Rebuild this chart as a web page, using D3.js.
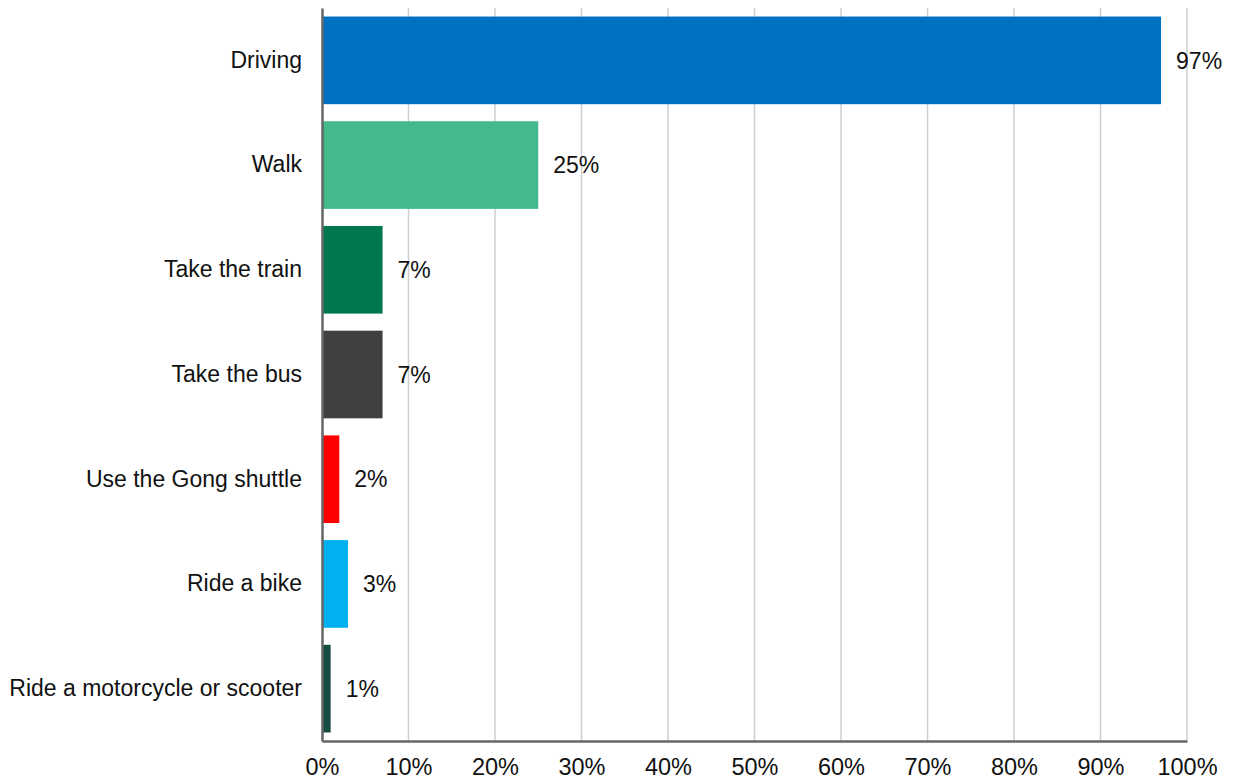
<!DOCTYPE html>
<html>
<head>
<meta charset="utf-8">
<script src="https://cdn.jsdelivr.net/npm/d3@7"></script>
<style>
  html, body { margin: 0; padding: 0; background: #fff; }
  svg { display: block; }
  text { font-family: "Liberation Sans", Arial, Helvetica, sans-serif; fill: #111; }
</style>
</head>
<body>
<svg id="chart" width="1233" height="781"></svg>
<script>
// How people get around
const categories = ["Driving", "Walk", "Take the train", "Take the bus", "Use the Gong shuttle", "Ride a bike", "Ride a motorcycle or scooter"];
const values = [97, 25, 7, 7, 2, 3, 1];
const colors = ["#0070c0", "#43ba8b", "#00784d", "#404040", "#ff0000", "#00b0f0", "#164c42"];
const tickValues = [0, 10, 20, 30, 40, 50, 60, 70, 80, 90, 100];

const svg = d3.select("#chart");
const margin = { top: 8, right: 46, bottom: 40, left: 322 };
const W = 1233, H = 781;
const innerW = W - margin.left - margin.right;
const innerH = H - margin.top - margin.bottom;

const x = d3.scaleLinear().domain([0, 100]).range([0, innerW]);
const y = d3.scaleBand().domain(categories).range([0, innerH]).paddingInner(0.163).paddingOuter(0.0815);

const g = svg.append("g").attr("transform", `translate(${margin.left},${margin.top})`);

// vertical gridlines
g.append("g")
  .selectAll("line")
  .data(tickValues.filter(d => d > 0))
  .join("line")
  .attr("x1", d => x(d)).attr("x2", d => x(d))
  .attr("y1", 0).attr("y2", innerH)
  .attr("stroke", "#cfcfcf")
  .attr("stroke-width", 1.5);

// bars
g.append("g")
  .selectAll("rect")
  .data(categories)
  .join("rect")
  .attr("x", x(0))
  .attr("y", d => y(d))
  .attr("width", (d, i) => x(values[i]) - x(0))
  .attr("height", y.bandwidth())
  .attr("fill", (d, i) => colors[i]);

// value labels
g.append("g")
  .selectAll("text")
  .data(categories)
  .join("text")
  .attr("x", (d, i) => x(values[i]) + 15)
  .attr("y", d => y(d) + y.bandwidth() / 2)
  .attr("dy", "0.36em")
  .style("font-size", "23px")
  .text((d, i) => values[i] + "%");

// x axis
const xAxis = g.append("g")
  .attr("transform", `translate(0,${innerH})`)
  .call(d3.axisBottom(x).tickValues(tickValues).tickFormat(d => d + "%").tickSize(0).tickPadding(17));
xAxis.select(".domain").attr("stroke", "#666").attr("stroke-width", 2.5);
xAxis.selectAll("text").style("font-size", "23.5px").attr("fill", "#111");

// y axis
const yAxis = g.append("g")
  .call(d3.axisLeft(y).tickSize(0).tickPadding(20));
yAxis.select(".domain").attr("stroke", "#666").attr("stroke-width", 2.5);
yAxis.selectAll("text").style("font-size", "23px").attr("fill", "#111");
</script>
</body>
</html>
